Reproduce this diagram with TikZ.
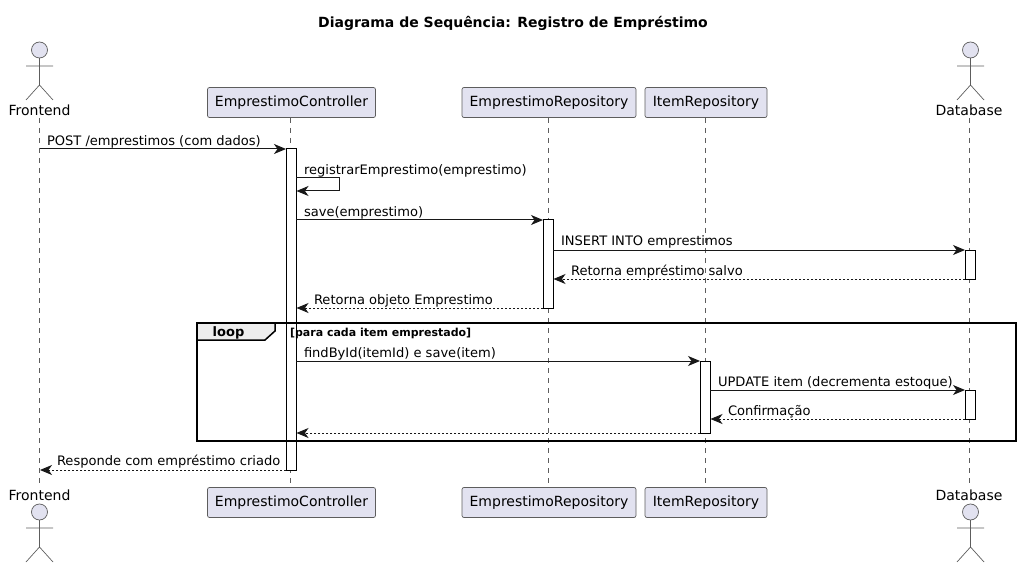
\documentclass[tikz,border=0pt]{standalone}
\usepackage{fontspec}
\setmainfont{DejaVu Sans}
\usetikzlibrary{arrows.meta}
\definecolor{pfill}{HTML}{E2E2F0}
\definecolor{pline}{HTML}{181818}
\tikzset{
  x=1pt,y=-1pt,
  every node/.style={inner sep=0pt,outer sep=0pt},
  partbox/.style={draw=pline!70,line width=.7pt,fill=pfill,rounded corners=2pt,minimum height=30pt,font=\fontsize{14}{16}\selectfont,text=black},
  actorhead/.style={circle,draw=pline!70,line width=.7pt,fill=pfill,minimum size=16pt},
  actorlimb/.style={draw=pline!70,line width=.7pt},
  actorname/.style={font=\fontsize{14}{16}\selectfont,anchor=base},
  life/.style={draw=pline!70,line width=.6pt,dash pattern=on 5pt off 5pt},
  actbar/.style={draw=black,line width=1pt,fill=white,minimum width=10pt},
  msg/.style={draw=pline,line width=1pt,-{Stealth[length=12pt,width=10pt,inset=3.5pt]}},
  ret/.style={msg,dash pattern=on 2pt off 2pt},
  msgtext/.style={anchor=base west,font=\fontsize{13.05}{15}\selectfont},
  loopframe/.style={draw=black,line width=1.6pt},
  looptab/.style={draw=black,line width=1.5pt,fill=black!7},
}
\begin{document}
\begin{tikzpicture}
\useasboundingbox (0,0) rectangle (1021,567);
\node[font=\bfseries\fontsize{14}{16}\selectfont] (title) at (513,23.7) {Diagrama de Sequência: Registro de Empréstimo};

% participants
\node[partbox,minimum width=168pt] (ctrlT) at (291.5,102.5) {EmprestimoController};
\node[partbox,minimum width=174pt] (repoT) at (549,102.5) {EmprestimoRepository};
\node[partbox,minimum width=122pt] (itemT) at (706,102.5) {ItemRepository};
\node[partbox,minimum width=168pt] (ctrlB) at (291.5,502.5) {EmprestimoController};
\node[partbox,minimum width=174pt] (repoB) at (549,502.5) {EmprestimoRepository};
\node[partbox,minimum width=122pt] (itemB) at (706,502.5) {ItemRepository};

% actor labels
\node[actorname] (frontT) at (39.5,116) {Frontend};
\node[actorname] (dbT) at (969,116) {Database};
\node[actorname] (frontB) at (39.5,500) {Frontend};
\node[actorname] (dbB) at (969,500) {Database};

% lifelines
\coordinate (lf1) at (39.5,118); \coordinate (lf2) at (39.5,487);
\coordinate (ld1) at (969.5,118); \coordinate (ld2) at (969.5,487);
\draw[life] (lf1) -- (lf2);
\draw[life] (ld1) -- (ld2);
\coordinate (lc1) at (290.5,118); \coordinate (lc2) at (290.5,487);
\coordinate (lr1) at (548,118); \coordinate (lr2) at (548,487);
\coordinate (li1) at (705,118); \coordinate (li2) at (705,487);
\draw[life] (lc1) -- (lc2);
\draw[life] (lr1) -- (lr2);
\draw[life] (li1) -- (li2);

% actors
\node[actorhead] (hf1) at (39.5,50) {};
\draw[actorlimb] (hf1.south) -- (39.5,85) (26,66) -- (53,66) (26,100) -- (39.5,85) -- (53,100);
\node[actorhead] (hd1) at (970.5,50) {};
\draw[actorlimb] (hd1.south) -- (970.5,85) (957,66) -- (984,66) (957,100) -- (970.5,85) -- (984,100);
\node[actorhead] (hf2) at (39.5,512) {};
\draw[actorlimb] (hf2.south) -- (39.5,547) (26,528) -- (53,528) (26,562) -- (39.5,547) -- (53,562);
\node[actorhead] (hd2) at (970.5,512) {};
\draw[actorlimb] (hd2.south) -- (970.5,547) (957,528) -- (984,528) (957,562) -- (970.5,547) -- (984,562);

% activation bars
\node[actbar,minimum height=321pt] (ca) at (291,309.5) {};
\node[actbar,minimum height=88pt] (ra) at (548,264) {};
\node[actbar,minimum height=29pt] (da1) at (970,264.5) {};
\node[actbar,minimum height=72pt] (ia) at (705,397) {};
\node[actbar,minimum height=29pt] (da2) at (970,404.5) {};

% loop frame
\coordinate (fa) at (197,323); \coordinate (fb) at (1016,441);
\draw[looptab] (197,323) -- (275,323) -- (275,331) -- (265,340) -- (197,340) -- cycle;
\draw[loopframe] (fa) rectangle (fb);
\draw[actbar,fill=none] (ca.north west) rectangle (ca.south east);
\node[anchor=base,font=\bfseries\fontsize{13}{15}\selectfont] (looplbl) at (228.5,336) {loop};
\node[anchor=base west,font=\bfseries\fontsize{11}{13}\selectfont] (guard) at (290,336) {[para cada item emprestado]};

% messages
\coordinate (m1a) at (39.5,149);
\coordinate (m1b) at (ca.north west);
\draw[msg] (m1a) -- (m1b);
\node[msgtext] (t1) at (47,145.5) {POST /emprestimos (com dados)};

\coordinate (m2a) at (296,178); \coordinate (m2c) at (339,178); \coordinate (m2d) at (339,191); \coordinate (m2b) at (296.5,191);
\draw[msg] (m2a) -- (m2c) -- (m2d) -- (m2b);
\node[msgtext] (t2) at (304,174.5) {registrarEmprestimo(emprestimo)};

\coordinate (m3a) at (296,220); \coordinate (m3b) at (ra.north west);
\draw[msg] (m3a) -- (m3b);
\node[msgtext] (t3) at (304,216.5) {save(emprestimo)};

\coordinate (m4a) at (553,250); \coordinate (m4b) at (da1.north west);
\draw[msg] (m4a) -- (m4b);
\node[msgtext] (t4) at (561,246) {INSERT INTO emprestimos};

\coordinate (m5a) at (da1.south west); \coordinate (m5b) at (553.5,279);
\draw[ret] (m5a) -- (m5b);
\node[msgtext] (t5) at (571,275.5) {Retorna empréstimo salvo};

\coordinate (m6a) at (ra.south west); \coordinate (m6b) at (296.5,308);
\draw[ret] (m6a) -- (m6b);
\node[msgtext] (t6) at (314,304.5) {Retorna objeto Emprestimo};

\coordinate (m7a) at (296,361); \coordinate (m7b) at (ia.north west);
\draw[msg] (m7a) -- (m7b);
\node[msgtext] (t7) at (304,357.5) {findById(itemId) e save(item)};

\coordinate (m8a) at (710,390); \coordinate (m8b) at (da2.north west);
\draw[msg] (m8a) -- (m8b);
\node[msgtext] (t8) at (718,386.5) {UPDATE item (decrementa estoque)};

\coordinate (m9a) at (da2.south west); \coordinate (m9b) at (710.5,419);
\draw[ret] (m9a) -- (m9b);
\node[msgtext] (t9) at (728,415.5) {Confirmação};

\coordinate (m10a) at (ia.south west); \coordinate (m10b) at (296.5,433);
\draw[ret] (m10a) -- (m10b);

\coordinate (m11a) at (ca.south west); \coordinate (m11b) at (40,470);
\draw[ret] (m11a) -- (m11b);
\node[msgtext] (t11) at (57,465.5) {Responde com empréstimo criado};
\end{tikzpicture}
\end{document}
